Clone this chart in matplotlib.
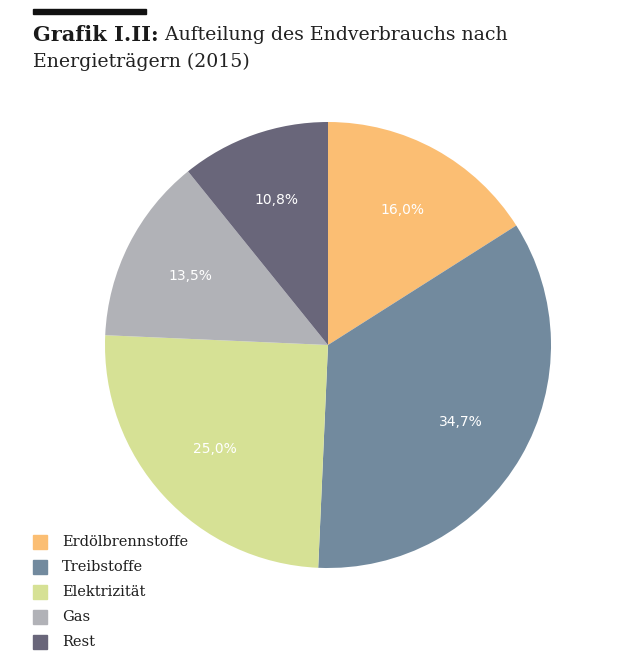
import matplotlib.pyplot as plt
from matplotlib.patches import Rectangle

categories = ['Erdölbrennstoffe', 'Treibstoffe', 'Elektrizität', 'Gas', 'Rest']
shares = [16.0, 34.7, 25.0, 13.5, 10.8]
colors = ['#fbbe73', '#728a9e', '#d6e195', '#b1b2b7', '#69667a']

title_bold = 'Grafik I.II:'
title_rest = ' Aufteilung des Endverbrauchs nach'
title_line2 = 'Energieträgern (2015)'


def fmt_pct(p):
    return f'{p:.1f}'.replace('.', ',') + '%'


fig = plt.figure(figsize=(6.2, 6.64), dpi=100)
fig.patch.set_facecolor('white')

# pie axes: centre ~ (328, 345) px, radius ~ 223 px
cx, cy, r = 328 / 620, 1 - 345 / 664, 223
ax = fig.add_axes([cx - r / 620, cy - r / 664, 2 * r / 620, 2 * r / 664])
wedges, texts, autotexts = ax.pie(
    shares, colors=colors, startangle=90, counterclock=False,
    autopct=fmt_pct, pctdistance=0.69,
    wedgeprops=dict(linewidth=0),
    textprops=dict(color='white', fontsize=10, family='DejaVu Sans'),
)
ax.set_xlim(-1, 1)
ax.set_ylim(-1, 1)
ax.set_aspect('equal')
ax.axis('off')

# title with black bar above
fig.patches.append(Rectangle((33 / 620, 1 - 14 / 664), 113 / 620, 5 / 664,
                             transform=fig.transFigure, color='#111111'))
t1 = fig.text(33 / 620, 1 - 35 / 664, title_bold, fontsize=15, fontweight='bold',
              family='DejaVu Serif', va='center', ha='left', color='#1a1a1a')
fig.canvas.draw()
bb = t1.get_window_extent()
fig.text(bb.x1 / 620, 1 - 35 / 664, title_rest, fontsize=13.6,
         family='DejaVu Serif', va='center', ha='left', color='#222222')
fig.text(33 / 620, 1 - 62 / 664, title_line2, fontsize=13.6,
         family='DejaVu Serif', va='center', ha='left', color='#222222')

# legend
for i, (name, col) in enumerate(zip(categories, colors)):
    y = 542 + i * 25
    fig.patches.append(Rectangle((33 / 620, 1 - (y + 7) / 664), 14 / 620, 14 / 664,
                                 transform=fig.transFigure, color=col))
    fig.text(62 / 620, 1 - y / 664, name, fontsize=10.5, family='DejaVu Serif',
             va='center', ha='left', color='#1f1f1f')

fig.savefig('out.png', dpi=100, facecolor='white')
